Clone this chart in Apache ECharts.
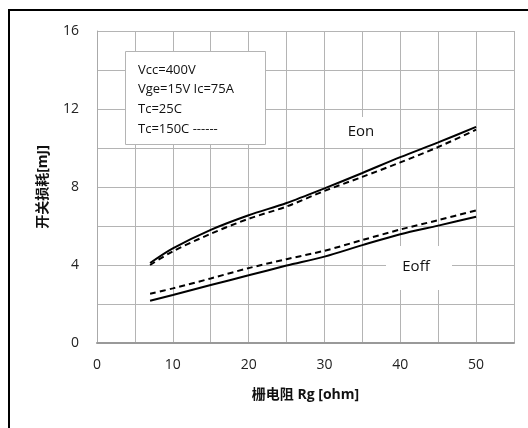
<!DOCTYPE html>
<html><head><meta charset="utf-8">
<script src="https://cdn.jsdelivr.net/npm/echarts@6/dist/echarts.min.js"></script>
<style>html,body{margin:0;padding:0;background:#fff}#c{width:528px;height:428px}</style>
</head><body><div id="c"></div>
<script>
const rg = [7, 10, 15, 20, 25, 30, 35, 40, 45, 50];
const eon25 = [4.1, 4.85, 5.8, 6.55, 7.18, 7.93, 8.72, 9.53, 10.29, 11.08];
const eon150 = [4.0, 4.7, 5.6, 6.37, 7.0, 7.8, 8.52, 9.26, 10.05, 10.94];
const eoff25 = [2.17, 2.46, 2.97, 3.47, 3.97, 4.43, 5.02, 5.58, 6.02, 6.47];
const eoff150 = [2.53, 2.8, 3.31, 3.84, 4.3, 4.73, 5.28, 5.82, 6.3, 6.8];
const legendLines = ['Vcc=400V', 'Vge=15V Ic=75A', 'Tc=25C', 'Tc=150C ------'];
const xTicks = [0, 10, 20, 30, 40, 50];
const yTicks = [0, 4, 8, 12, 16];

const pair = (xs, ys) => xs.map((x, i) => [x, ys[i]]);
const font = '"Open Sans", "Noto Sans CJK SC", sans-serif';
const chart = echarts.init(document.getElementById('c'));
function mkSeries(data, dashed) {
  return {
    type: 'line', data: data, smooth: 0.3, symbol: 'none', z: 5,
    lineStyle: { color: '#000', width: 2, type: dashed ? [6, 4] : 'solid' }
  };
}
chart.setOption({
  animation: false,
  grid: { left: 97, top: 31, right: 14, bottom: 85 },
  xAxis: {
    type: 'value', min: 0, max: 55, interval: 5,
    name: '栅电阻 Rg [ohm]', nameLocation: 'middle', nameGap: 45,
    nameTextStyle: { fontFamily: font, fontSize: 14, fontWeight: 'bold', color: '#111' },
    axisLine: { show: true, lineStyle: { color: '#999', width: 2 } },
    axisTick: { show: false },
    axisLabel: { fontFamily: font, fontSize: 14, color: '#222', margin: 15,
      formatter: v => (xTicks.indexOf(v) >= 0 ? String(v) : '') },
    splitLine: { show: true, lineStyle: { color: '#b4b4b4', width: 1 } }
  },
  yAxis: {
    type: 'value', min: 0, max: 16, interval: 2,
    name: '开关损耗[mJ]', nameLocation: 'middle', nameGap: 47, nameRotate: 90,
    nameTextStyle: { fontFamily: font, fontSize: 14, fontWeight: 'bold', color: '#111' },
    axisLine: { show: true, lineStyle: { color: '#aaa', width: 1 } },
    axisTick: { show: false },
    axisLabel: { fontFamily: font, fontSize: 14, color: '#222', margin: 18,
      formatter: v => (yTicks.indexOf(v) >= 0 ? String(v) : '') },
    splitLine: { show: true, lineStyle: { color: '#b4b4b4', width: 1 } }
  },
  series: [mkSeries(pair(rg, eon25), false), mkSeries(pair(rg, eon150), true),
           mkSeries(pair(rg, eoff25), false), mkSeries(pair(rg, eoff150), true)],
  graphic: [
    { type: 'rect', z: 100, shape: { x: 9, y: 10, width: 700, height: 700 },
      style: { fill: 'none', stroke: '#000', lineWidth: 2 } },
    { type: 'rect', z: 100, shape: { x: 125.5, y: 51.5, width: 140, height: 93 },
      style: { fill: '#fff', stroke: '#b4b4b4', lineWidth: 1 } },
    ...legendLines.map((t, i) => ({ type: 'text', z: 101, x: 138, y: 70 + i * 19.7,
      style: { text: t, font: '13px ' + font, fill: '#111', textVerticalAlign: 'middle' } })),
    { type: 'rect', z: 100, shape: { x: 333, y: 117, width: 58, height: 31 }, style: { fill: '#fff' } },
    { type: 'text', z: 101, x: 361, y: 132, style: { text: 'Eon', font: '15px ' + font, fill: '#111', textAlign: 'center', textVerticalAlign: 'middle' } },
    { type: 'rect', z: 100, shape: { x: 386, y: 246, width: 66, height: 44 }, style: { fill: '#fff' } },
    { type: 'text', z: 101, x: 416, y: 267, style: { text: 'Eoff', font: '15px ' + font, fill: '#111', textAlign: 'center', textVerticalAlign: 'middle' } }
  ]
});
</script></body></html>
